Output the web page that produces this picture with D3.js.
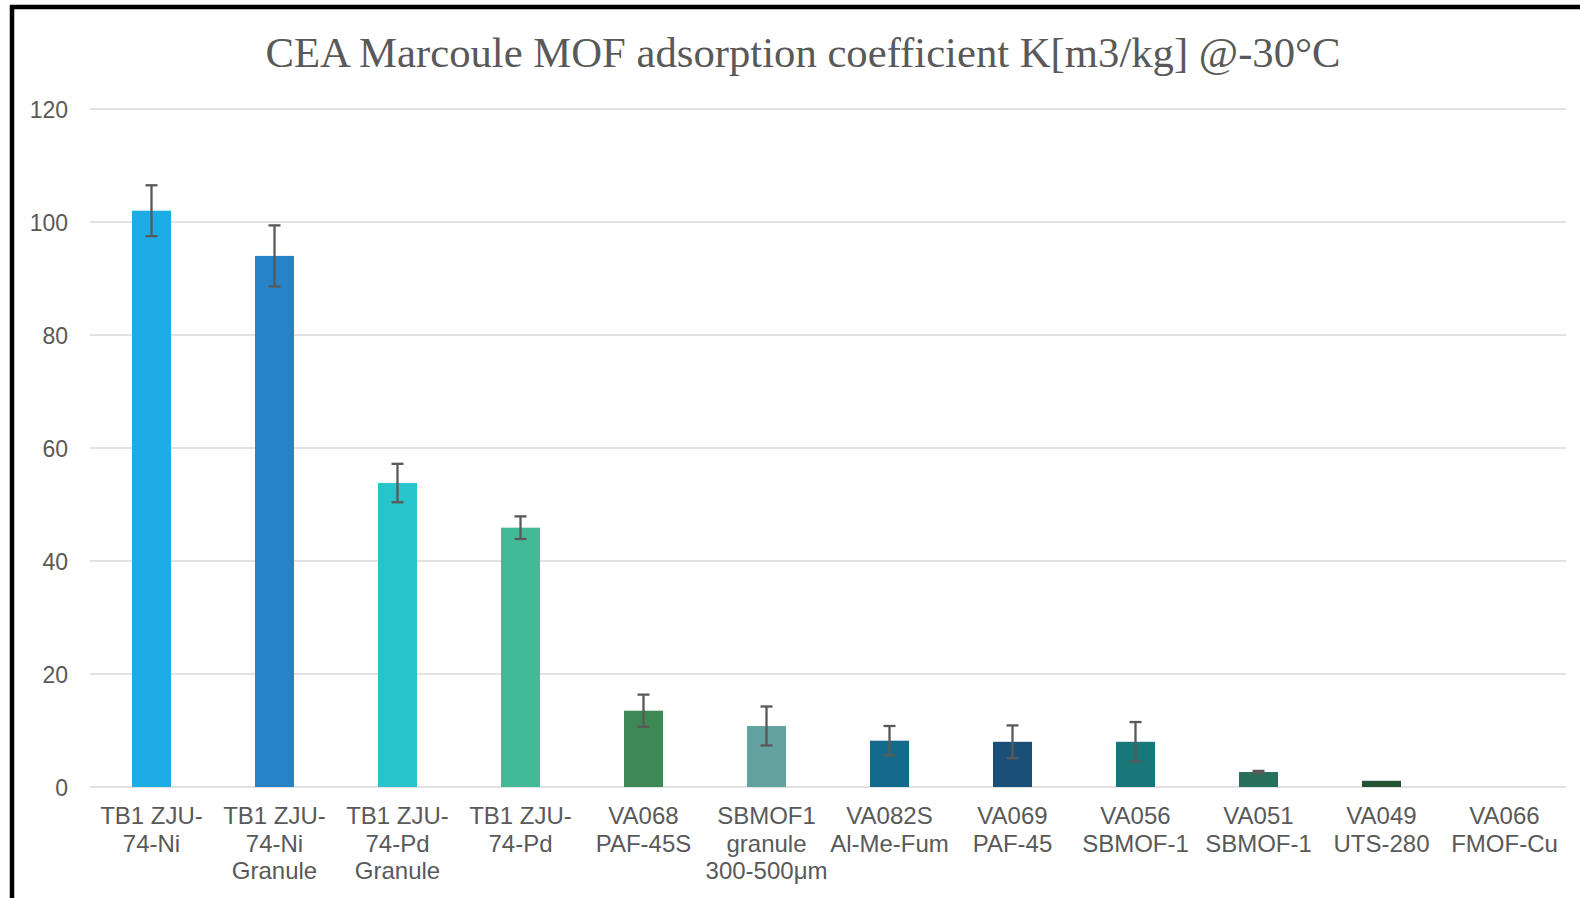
<!DOCTYPE html>
<html>
<head>
<meta charset="utf-8">
<script src="https://cdn.jsdelivr.net/npm/d3@7"></script>
<style>
  html, body { margin: 0; padding: 0; background: #fff; }
  svg { display: block; }
</style>
</head>
<body>
<svg id="chart" width="1580" height="898"></svg>
<script>
// Sample names (line breaks mark how each axis label wraps)
const categories = [
  "TB1 ZJU-\n74-Ni",
  "TB1 ZJU-\n74-Ni\nGranule",
  "TB1 ZJU-\n74-Pd\nGranule",
  "TB1 ZJU-\n74-Pd",
  "VA068\nPAF-45S",
  "SBMOF1\ngranule\n300-500μm",
  "VA082S\nAl-Me-Fum",
  "VA069\nPAF-45",
  "VA056\nSBMOF-1",
  "VA051\nSBMOF-1",
  "VA049\nUTS-280",
  "VA066\nFMOF-Cu"
];
// Adsorption coefficient K [m3/kg] at -30 °C
const kValues = [102, 94, 53.8, 45.9, 13.5, 10.8, 8.2, 8.0, 8.0, 2.65, 1.1, 0];
// Symmetric error (±)
const kErrors = [4.5, 5.4, 3.4, 2.0, 2.85, 3.45, 2.6, 2.9, 3.5, 0.2, 0, 0];
const barColors = ["#1CADE4", "#2683C6", "#27C4CB", "#42BA97", "#3E8853", "#62A39F",
                   "#146A8A", "#1A4F78", "#187778", "#28705C", "#255233", "#1CADE4"];
const yTicks = [0, 20, 40, 60, 80, 100, 120];
const titleText = "CEA Marcoule MOF adsorption coefficient K[m3/kg] @-30°C";

const svg = d3.select("#chart");
const W = 1580, H = 898;
const plot = { left: 90, right: 1566, top: 109, bottom: 787 };
const textGrey = "#595959";

svg.append("rect").attr("width", W).attr("height", H).attr("fill", "#fff");

const x = d3.scaleBand()
  .domain(categories)
  .range([plot.left, plot.right])
  .paddingInner(0.683)
  .paddingOuter(0.3415);

const y = d3.scaleLinear().domain([0, 120]).range([plot.bottom, plot.top]);

// Horizontal gridlines
svg.append("g")
  .selectAll("line")
  .data(yTicks)
  .join("line")
  .attr("x1", plot.left).attr("x2", plot.right)
  .attr("y1", d => y(d)).attr("y2", d => y(d))
  .attr("stroke", "#D9D9D9").attr("stroke-width", 1.4);

// Y axis labels
const yAxis = svg.append("g")
  .attr("transform", `translate(${plot.left - 22},0)`)
  .call(d3.axisLeft(y).tickValues(yTicks).tickSize(0).tickPadding(0));
yAxis.select(".domain").remove();
yAxis.selectAll("text")
  .attr("fill", textGrey)
  .attr("font-family", "Liberation Sans, Arial, sans-serif")
  .attr("font-size", 23)
  .attr("dy", "0.35em");

// Bars
svg.append("g")
  .selectAll("rect")
  .data(categories)
  .join("rect")
  .attr("x", d => x(d))
  .attr("width", x.bandwidth())
  .attr("y", (d, i) => y(kValues[i]))
  .attr("height", (d, i) => y(0) - y(kValues[i]))
  .attr("fill", (d, i) => barColors[i]);

// Error bars
const errG = svg.append("g").attr("stroke", textGrey).attr("stroke-width", 2.3);
categories.forEach((c, i) => {
  if (!kErrors[i]) return;
  const cx = x(c) + x.bandwidth() / 2;
  const hi = y(kValues[i] + kErrors[i]);
  const lo = y(kValues[i] - kErrors[i]);
  errG.append("line").attr("x1", cx).attr("x2", cx).attr("y1", hi).attr("y2", lo);
  errG.append("line").attr("x1", cx - 6).attr("x2", cx + 6).attr("y1", hi).attr("y2", hi);
  errG.append("line").attr("x1", cx - 6).attr("x2", cx + 6).attr("y1", lo).attr("y2", lo);
});

// X axis labels (multi-line)
const xAxis = svg.append("g")
  .attr("transform", `translate(0,${plot.bottom})`)
  .call(d3.axisBottom(x).tickSize(0).tickPadding(0));
xAxis.select(".domain").remove();
xAxis.selectAll("text").each(function (d) {
  const t = d3.select(this)
    .text(null)
    .attr("y", 0)
    .attr("dy", null)
    .attr("fill", textGrey)
    .attr("font-family", "Liberation Sans, Arial, sans-serif")
    .attr("font-size", 24)
    .attr("text-anchor", "middle");
  d.split("\n").forEach((line, k) => {
    t.append("tspan").attr("x", 0).attr("y", 37 + k * 27.5).text(line);
  });
});

// Title
svg.append("text")
  .attr("x", 803).attr("y", 67)
  .attr("text-anchor", "middle")
  .attr("fill", textGrey)
  .attr("font-family", "Liberation Serif, Times New Roman, serif")
  .attr("font-size", 42.7)
  .text(titleText);

// Outer frame
svg.append("rect")
  .attr("x", 12).attr("y", 7)
  .attr("width", W + 20).attr("height", H + 20)
  .attr("fill", "none")
  .attr("stroke", "#000")
  .attr("stroke-width", 4.5);
</script>
</body>
</html>
